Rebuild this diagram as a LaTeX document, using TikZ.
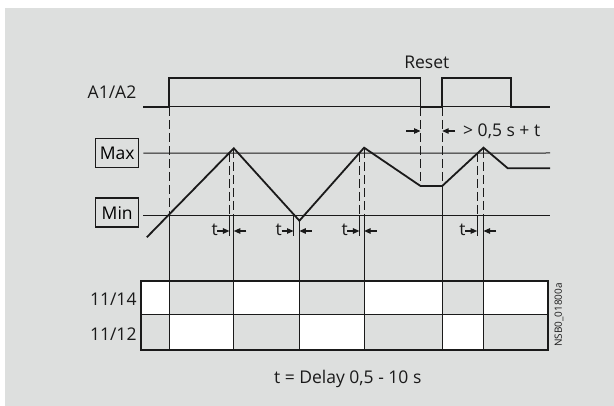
\documentclass[tikz,border=0pt]{standalone}
\usepackage{fontspec}
\setmainfont{Open Sans}
\usetikzlibrary{arrows.meta}
\definecolor{bgcol}{RGB}{221,223,222}
\definecolor{inkcol}{HTML}{1A1A1A}
\tikzset{
  sig/.style={line width=1.8pt, inkcol, line join=miter},
  thr/.style={line width=1pt, inkcol},
  dline/.style={line width=1pt, inkcol, dash pattern=on 9pt off 4pt},
  vline/.style={line width=0.9pt, inkcol},
  tarr/.style={-{Triangle[length=6.5pt, width=5.5pt]}, line width=1.2pt, inkcol},
  lbl/.style={font=\fontsize{17.5}{20}\selectfont, inner sep=0pt, inkcol},
  lvlbox/.style={draw=inkcol, line width=1.4pt, minimum width=43pt, minimum height=29pt,
                 font=\fontsize{17.5}{20}\selectfont, inner sep=0pt},
}

\begin{document}
\begin{tikzpicture}[x=1pt, y=-1pt]
  \useasboundingbox (0,0) rectangle (614,406);
  % ── background ───────────────────────────────────────────────────
  \fill[white] (0,0) rectangle (614,406);
  \fill[bgcol] (4.7,8) rectangle (614,406);
  % ── contact rows (white = closed) ────────────────────────────────
  \foreach \xa/\xb in {140.6/169.2, 233.8/299.4, 364.1/442.2, 483.5/548.3}
    \fill[white] (\xa,281) rectangle (\xb,314.5);
  \foreach \xa/\xb in {169.2/233.8, 299.4/364.1, 442.2/483.5}
    \fill[white] (\xa,314.5) rectangle (\xb,350);
  % ── labels ───────────────────────────────────────────────────────
  \node[lbl, anchor=east] (lA) at (136.5, 92) {A1/A2};
  \node[lbl] (lReset) at (426.8, 62.5) {Reset};
  \node[lvlbox] (bMax) at (117.2, 153.2) {Max};
  \node[lvlbox] (bMin) at (117.2, 212.7) {Min};
  \node[lbl, anchor=east] (l14) at (136.7, 299.5) {11/14};
  \node[lbl, anchor=east] (l12) at (136.7, 334) {11/12};
  \node[lbl, anchor=west] (lGap) at (463, 131) {> 0,5 s + t};
  \node[lbl] (lDelay) at (347.7, 379) {t = Delay 0,5 - 10 s};
  \node[font=\fontsize{10}{12}\selectfont, inner sep=0pt, rotate=90, inkcol] (lRef) at (559, 315) {NSB0\_01800a};
  % ── supply signal A1/A2 ──────────────────────────────────────────
  \draw[thr] (143,107) -- (550,107);
  \draw[sig] (143,107) -- (169.2,107) -- (169.2,78.3) -- (420.5,78.3) -- (420.5,107)
    -- (442.2,107) -- (442.2,78.3) -- (511,78.3) -- (511,107) -- (550,107);
  % ── thresholds and measured value ────────────────────────────────
  \draw[thr] (bMax.east) ++(4,0) -- (550,153);
  \draw[thr] (143,215.3) -- (550,215.3);
  \draw[sig] (146.8,237.3) -- (233.8,148.3) -- (299.4,220.7) -- (364.1,147.7)
    -- (420.5,186) -- (442.2,186) -- (483.5,147.7) -- (507.8,168.3) -- (550,168.3);
  % ── switching instants (dashed above, solid below) ───────────────
  \draw[dline] (169.2,107) -- (169.2,215.3);
  \draw[vline] (169.2,215.3) -- (169.2,350);
  \foreach \xc/\xp in {229.4/233.8, 359.4/364.1, 477.2/483.5} {
    \draw[dline] (\xc,153) -- (\xc,215.3);
    \draw[vline] (\xc,215.3) -- (\xc,236);
    \draw[dline] (\xp,149) -- (\xp,215.3);
    \draw[vline] (\xp,215.3) -- (\xp,350);
  }
  \draw[vline] (293.5,215.3) -- (293.5,236);
  \draw[vline] (299.4,220.7) -- (299.4,350);
  % ── reset gap ────────────────────────────────────────────────────
  \draw[dline] (420.5,107) -- (420.5,186);
  \draw[dline] (442.2,107) -- (442.2,186);
  \draw[vline] (442.2,186) -- (442.2,350);
  \draw[tarr] (406,131) -- (420.5,131);
  \draw[tarr] (455,131) -- (442.2,131);
  % ── delay markers t ──────────────────────────────────────────────
  \foreach \xc/\xp in {229.4/233.8, 293.5/299.4, 359.4/364.1, 477.2/483.5} {
    \node[lbl, anchor=east] at (\xc-11.5,230) {t};
    \draw[tarr] (\xc-12,231) -- (\xc,231);
    \draw[tarr] (\xp+12.5,231) -- (\xp,231);
  }
  % ── contact frame ────────────────────────────────────────────────
  \draw[inkcol, line width=1pt] (140.6,314.5) -- (548.3,314.5);
  \draw[inkcol, line width=1.8pt] (140.6,281) rectangle (548.3,350);
\end{tikzpicture}
\end{document}
